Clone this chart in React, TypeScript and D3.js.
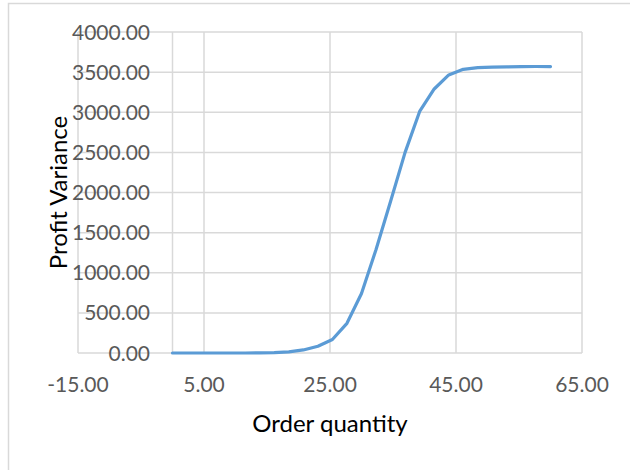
import React from "react";
import * as d3 from "d3";

// Order quantity (x) and the resulting profit variance (y)
const orderQuantity = [
  0, 2.31, 4.62, 6.92, 9.23, 11.54, 13.85, 16.15, 18.46, 20.77, 23.08, 25.38,
  27.69, 30, 32.31, 34.62, 36.92, 39.23, 41.54, 43.85, 46.15, 48.46, 50.77,
  53.08, 55.38, 57.69, 60,
];
const profitVariance = [
  0, 0, 0, 0, 0, 0, 1, 5, 15, 38, 85, 168, 370, 742, 1290, 1890, 2500, 3010,
  3290, 3465, 3535, 3556, 3562, 3565, 3568, 3570, 3569,
];

const xTicks = [-15, 5, 25, 45, 65];
const yTicks = [0, 500, 1000, 1500, 2000, 2500, 3000, 3500, 4000];

const xTitle = "Order quantity";
const yTitle = "Profit Variance";

const W = 630;
const H = 470;
const plot = { left: 78, right: 582, top: 32, bottom: 353 };

const GRID = "#D9D9D9";
const TICK_TEXT = "#595959";
const LINE = "#5B9BD5";
const FONT = "Lato, 'Open Sans', sans-serif";

// two decimals, with a plain hyphen for negatives
const fmt = (v: number) => v.toFixed(2);

export default function App() {
  const x = d3.scaleLinear().domain([-15, 65]).range([plot.left, plot.right]);
  const y = d3.scaleLinear().domain([0, 4000]).range([plot.bottom, plot.top]);

  const points: [number, number][] = orderQuantity.map((q, i) => [
    q,
    profitVariance[i],
  ]);
  const path = d3
    .line<[number, number]>()
    .x((d) => x(d[0]))
    .y((d) => y(d[1]))(points);

  return (
    <svg
      width={W}
      height={H}
      style={{ position: "absolute", left: 0, top: 0, background: "#fff" }}
    >
      {/* chart frame */}
      <rect
        x={8.5}
        y={3.5}
        width={W + 20}
        height={H + 20}
        fill="#fff"
        stroke={GRID}
        strokeWidth={1.5}
      />

      {/* horizontal gridlines */}
      {yTicks.map((t) => (
        <line
          key={"h" + t}
          x1={plot.left}
          x2={plot.right}
          y1={y(t)}
          y2={y(t)}
          stroke={GRID}
          strokeWidth={1.5}
        />
      ))}
      {/* vertical gridlines */}
      {xTicks.map((t) => (
        <line
          key={"v" + t}
          x1={x(t)}
          x2={x(t)}
          y1={plot.top}
          y2={plot.bottom}
          stroke={GRID}
          strokeWidth={1.5}
        />
      ))}
      {/* vertical axis at x = 0 */}
      <line
        x1={x(0)}
        x2={x(0)}
        y1={plot.top}
        y2={plot.bottom}
        stroke={GRID}
        strokeWidth={1.5}
      />

      {/* y tick labels */}
      {yTicks.map((t) => (
        <text
          key={"yl" + t}
          x={150}
          y={y(t) + 7.5}
          textAnchor="end"
          fontFamily={FONT}
          fontSize={21}
          fill={TICK_TEXT}
        >
          {fmt(t)}
        </text>
      ))}
      {/* x tick labels */}
      {xTicks.map((t) => (
        <text
          key={"xl" + t}
          x={x(t)}
          y={391.5}
          textAnchor="middle"
          fontFamily={FONT}
          fontSize={21}
          fill={TICK_TEXT}
        >
          {fmt(t)}
        </text>
      ))}

      {/* series */}
      <path
        d={path ?? ""}
        fill="none"
        stroke={LINE}
        strokeWidth={3.2}
        strokeLinejoin="round"
        strokeLinecap="round"
      />

      {/* axis titles */}
      <text
        x={(plot.left + plot.right) / 2}
        y={431.5}
        textAnchor="middle"
        fontFamily={FONT}
        fontSize={24}
        fill="#000"
      >
        {xTitle}
      </text>
      <text
        transform={`translate(67, ${(plot.top + plot.bottom) / 2}) rotate(-90)`}
        textAnchor="middle"
        fontFamily={FONT}
        fontSize={24}
        fill="#000"
      >
        {yTitle}
      </text>
    </svg>
  );
}
